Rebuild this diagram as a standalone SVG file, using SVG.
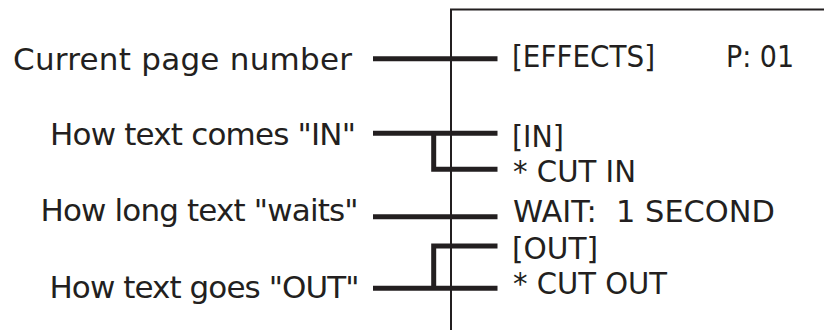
<svg xmlns="http://www.w3.org/2000/svg" width="824" height="330" viewBox="0 0 824 330">
  <style>
    text { font-family: "DejaVu Sans", "Liberation Sans", sans-serif; font-size: 31px; fill: #231f20; }
    .lbl { text-anchor: end; }
    .lead { stroke: #231f20; stroke-width: 5; fill: none; stroke-linejoin: miter; }
    .frame { stroke: #231f20; stroke-width: 2; fill: none; }
  </style>
  <rect width="824" height="330" fill="#ffffff"/>

  <g id="screen">
    <path class="frame" d="M451,330 V9.5 H830"/>
  </g>

  <g id="connectors">
    <path class="lead" d="M373,58.7 H497.5"/>
    <path class="lead" d="M373,133.3 H497.5"/>
    <path class="lead" d="M433.7,133.3 V169.3 H497.5"/>
    <path class="lead" d="M373,216.7 H497.5"/>
    <path class="lead" d="M497.5,246 H433.7 V288.3"/>
    <path class="lead" d="M373,288.3 H497.5"/>
  </g>

  <g id="label-page">
    <text class="lbl" x="352" y="70" textLength="339">Current page number</text>
  </g>
  <g id="label-in">
    <text class="lbl" x="356" y="145" textLength="306">How text comes "IN"</text>
  </g>
  <g id="label-wait">
    <text class="lbl" x="358.5" y="221" textLength="318">How long text "waits"</text>
  </g>
  <g id="label-out">
    <text class="lbl" x="359.5" y="298.3" textLength="310">How text goes "OUT"</text>
  </g>

  <g id="screen-text">
    <text x="512" y="66.7" textLength="143" lengthAdjust="spacingAndGlyphs">[EFFECTS]</text>
    <text x="726" y="66.7" textLength="68" lengthAdjust="spacingAndGlyphs">P: 01</text>
    <text x="512" y="146.5" textLength="52" lengthAdjust="spacingAndGlyphs">[IN]</text>
    <text x="513" y="182" textLength="123" lengthAdjust="spacingAndGlyphs">* CUT IN</text>
    <text x="513" y="221.5" textLength="262" lengthAdjust="spacingAndGlyphs" xml:space="preserve">WAIT:  1 SECOND</text>
    <text x="512" y="259" textLength="86" lengthAdjust="spacingAndGlyphs">[OUT]</text>
    <text x="513" y="294.3" textLength="154" lengthAdjust="spacingAndGlyphs">* CUT OUT</text>
  </g>
</svg>
